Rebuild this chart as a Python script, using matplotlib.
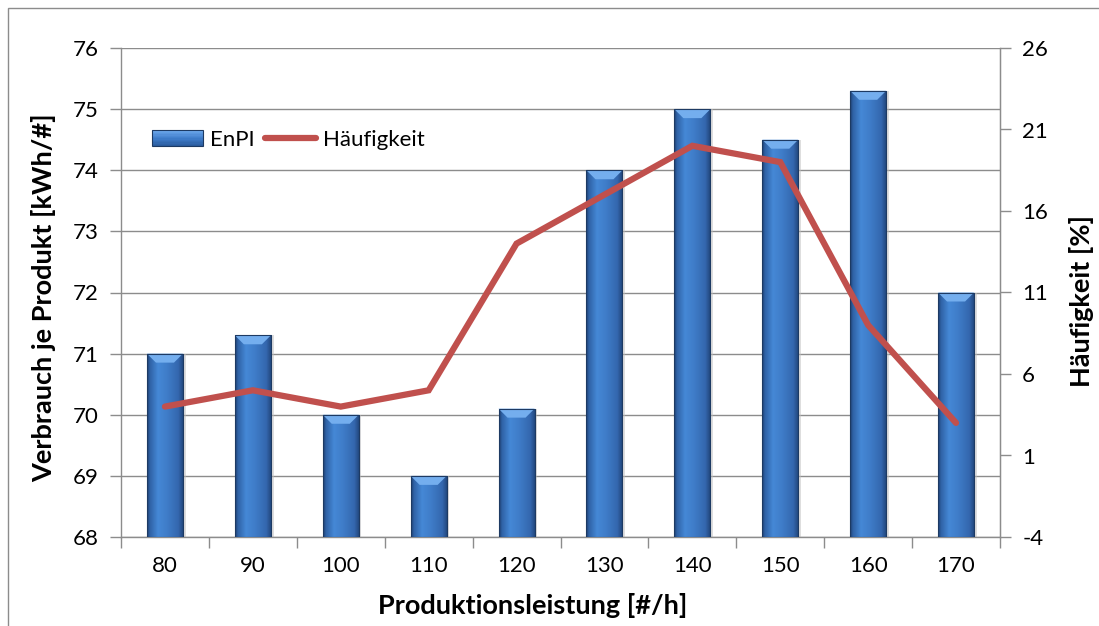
import numpy as np
import matplotlib
matplotlib.use("Agg")
import matplotlib.pyplot as plt
from matplotlib.patches import Rectangle, Polygon
from matplotlib.lines import Line2D
from matplotlib.legend_handler import HandlerBase
from matplotlib.colors import LinearSegmentedColormap

plt.rcParams['font.family'] = ['Lato', 'DejaVu Sans']

# Data
categories = ['80', '90', '100', '110', '120', '130', '140', '150', '160', '170']
enpi = [71.0, 71.3, 70.0, 69.0, 70.1, 74.0, 75.0, 74.5, 75.3, 72.0]
haeufigkeit = [4, 5, 4, 5, 14, 17, 20, 19, 9, 3]
left_ticks = [68, 69, 70, 71, 72, 73, 74, 75, 76]
right_ticks = [-4, 1, 6, 11, 16, 21, 26]

BAR_W = 0.41
LINE_COLOR = '#C0504D'
FS = 16
LABEL_FS = 19.5

fig = plt.figure(figsize=(10.99, 6.26), dpi=100)
ax = fig.add_axes([121 / 1099, 1 - 537 / 626, 879 / 1099, 489 / 626])
ax2 = ax.twinx()

# outer chart border
fig.patches.append(Rectangle((8 / 1099, -0.05), 1.2, 1 - 8 / 626 + 0.05,
                             transform=fig.transFigure, fill=False,
                             edgecolor='#8C8C8C', linewidth=1.0, zorder=0))

x = np.arange(len(categories))
ymin, ymax = left_ticks[0], left_ticks[-1]

# horizontal cylinder-like shading for the bars
bar_cmap = LinearSegmentedColormap.from_list('bar', [
    (0.00, '#1E3F6E'), (0.08, '#2F62A6'), (0.30, '#4588D6'),
    (0.55, '#3F7CC8'), (0.85, '#3467AE'), (1.00, '#1F4276')])
grad = np.linspace(0, 1, 256).reshape(1, -1)

bars = ax.bar(x, [v - ymin for v in enpi], bottom=ymin, width=BAR_W,
              facecolor='none', edgecolor='none', zorder=3)

px_per_unit = 489 / (ymax - ymin)
bevel_h = 9 / px_per_unit
for b in bars:
    x0, w = b.get_x(), b.get_width()
    y0, h = b.get_y(), b.get_height()
    # soft shadow on the right
    ax.add_patch(Rectangle((x0 + w, y0), 0.03, h, facecolor='#BFBFBF',
                           edgecolor='none', alpha=0.5, zorder=2.5))
    im = ax.imshow(grad, cmap=bar_cmap, aspect='auto',
                   extent=[x0, x0 + w, y0, y0 + h], zorder=3,
                   interpolation='bilinear')
    im.set_clip_path(b)
    top = y0 + h
    ax.add_patch(Polygon([(x0, top), (x0 + w, top),
                          (x0 + w * 0.75, top - bevel_h),
                          (x0 + w * 0.25, top - bevel_h)],
                         closed=True, facecolor='#74AEEE', edgecolor='none',
                         zorder=3.2))
    ax.add_patch(Rectangle((x0, y0), w, h, fill=False, edgecolor='#1D3A63',
                           linewidth=0.8, zorder=3.3))

ax.set_xlim(-0.5, len(categories) - 0.5)
ax.set_ylim(ymin, ymax)
ax.set_yticks(left_ticks)
ax.set_yticklabels([str(t) for t in left_ticks])
ax.set_xticks(x)
ax.set_xticklabels(categories)
ax.set_xticks(np.arange(-0.5, len(categories)), minor=True)
ax.tick_params(axis='x', which='major', length=0, pad=14, labelsize=FS)
ax.tick_params(axis='x', which='minor', length=8, width=1, color='#8C8C8C')
ax.tick_params(axis='y', length=8, width=1, color='#8C8C8C', labelsize=FS, pad=8)
ax.grid(axis='y', color='#8C8C8C', linewidth=1.0, zorder=0)
ax.set_axisbelow(True)
ax.spines['top'].set_visible(False)
for s in ['left', 'bottom', 'right']:
    ax.spines[s].set_color('#8C8C8C')
    ax.spines[s].set_linewidth(1.0)

ax2.plot(x, haeufigkeit, color=LINE_COLOR, linewidth=4.5,
         solid_joinstyle='miter', solid_capstyle='round', zorder=4)
ax2.set_ylim(right_ticks[0], right_ticks[-1])
ax2.set_yticks(right_ticks)
ax2.set_yticklabels([str(t) for t in right_ticks])
ax2.tick_params(axis='y', length=8, width=1, color='#8C8C8C', labelsize=FS, pad=8)
ax2.spines['top'].set_visible(False)
ax2.spines['left'].set_visible(False)
ax2.spines['bottom'].set_visible(False)
ax2.spines['right'].set_color('#8C8C8C')
ax2.set_zorder(ax.get_zorder() + 1)
ax2.patch.set_visible(False)

ax.set_xlabel('Produktionsleistung [#/h]', fontsize=LABEL_FS, fontweight='bold',
              va='center', ha='center')
ax.xaxis.set_label_coords((533 - 121) / 879, (537 - 605) / 489)
ax.set_ylabel('Verbrauch je Produkt [kWh/#]', fontsize=LABEL_FS,
              fontweight='bold', va='center', ha='center')
ax.yaxis.set_label_coords((44 - 121) / 879, (537 - 298) / 489)
ax2.set_ylabel('Häufigkeit [%]', fontsize=LABEL_FS, fontweight='bold',
               va='center', ha='center')
ax2.yaxis.set_label_coords((1081 - 121) / 879, (537 - 301) / 489)


class GradientBarHandler(HandlerBase):
    def create_artists(self, legend, orig_handle, xdescent, ydescent,
                       width, height, fontsize, trans):
        h = height * 0.95
        y0 = -ydescent + (height - h) / 2
        arts = []
        n = 12
        cols = LinearSegmentedColormap.from_list(
            'lg', ['#6AA5EA', '#3F7DCB', '#2B5C9E'])(np.linspace(0, 1, n))
        for i in range(n):
            arts.append(Rectangle((-xdescent, y0 + h - (i + 1) * h / n),
                                  width, h / n, facecolor=cols[i],
                                  edgecolor='none', transform=trans))
        arts.append(Rectangle((-xdescent, y0), width, h, fill=False,
                              edgecolor='#1D3A63', linewidth=0.8,
                              transform=trans))
        return arts


bar_handle = Rectangle((0, 0), 1, 1)
line_handle = Line2D([0], [0], color=LINE_COLOR, linewidth=4.5,
                     solid_capstyle='round')
leg = ax2.legend([bar_handle, line_handle], ['EnPI', 'Häufigkeit'],
                 handler_map={Rectangle: GradientBarHandler()},
                 loc='center left', bbox_to_anchor=(0.025, 0.812), ncol=2,
                 frameon=False, fontsize=FS, handlelength=2.3,
                 handletextpad=0.3, columnspacing=0.5, handleheight=0.8,
                 borderaxespad=0)

fig.savefig('out.png', dpi=100)
